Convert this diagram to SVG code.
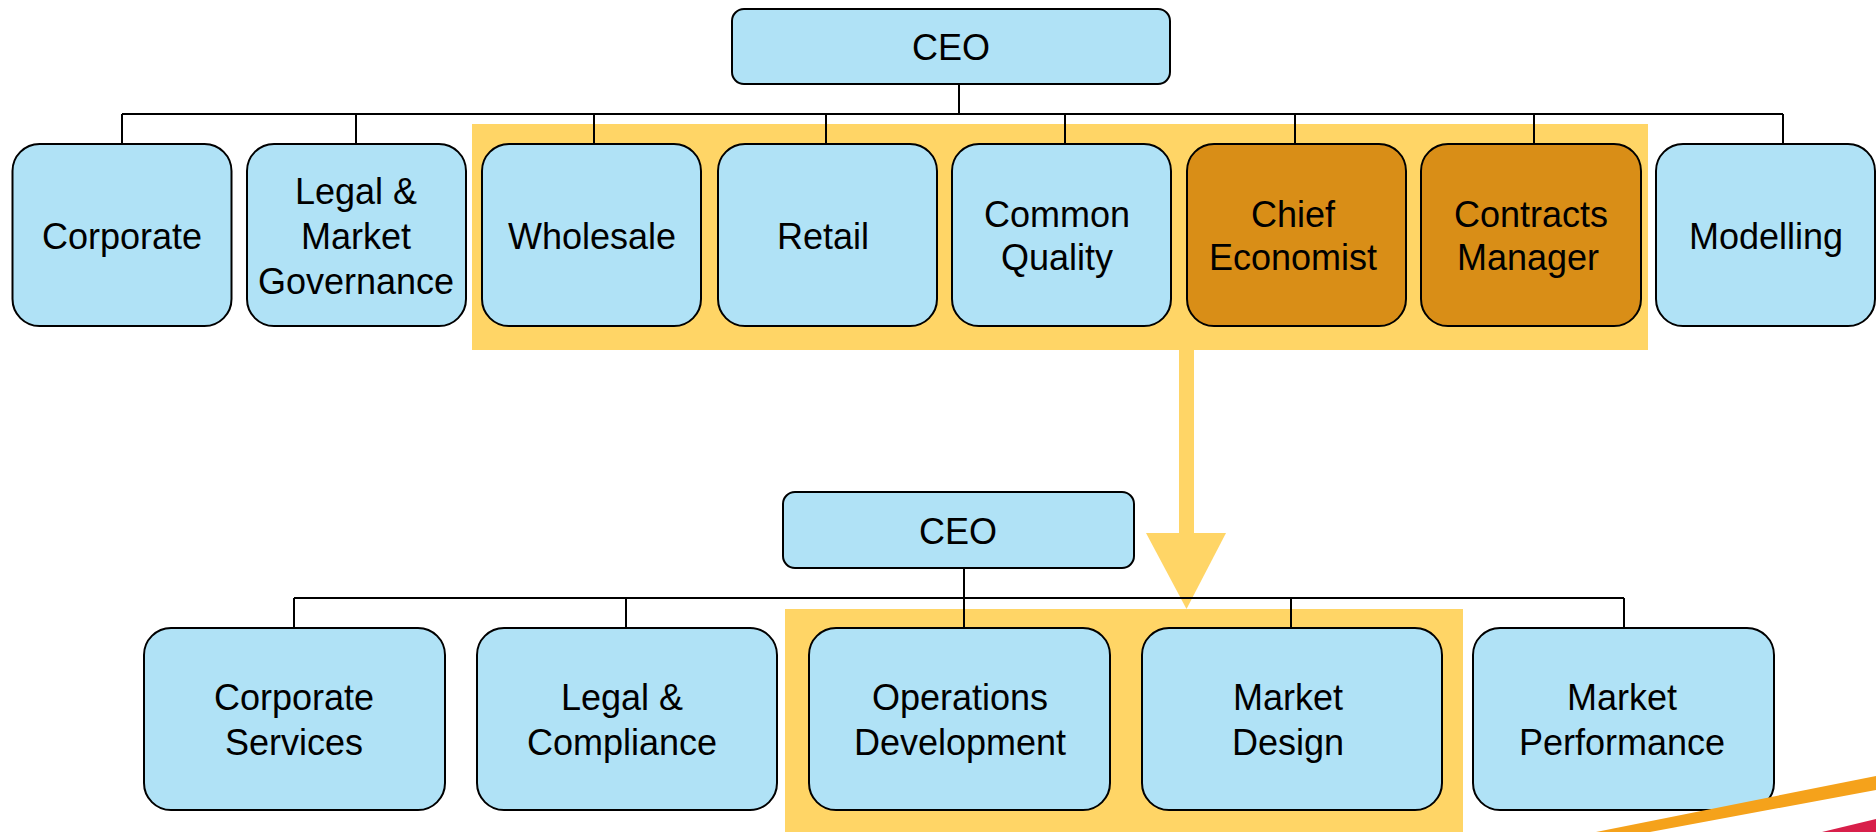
<svg xmlns="http://www.w3.org/2000/svg" width="1876" height="832" viewBox="0 0 1876 832">
<style>
.b{fill:#B0E2F6;stroke:#000;stroke-width:2}
.o{fill:#D98E17;stroke:#000;stroke-width:2}
.t{font-family:"Liberation Sans",Arial,sans-serif;font-size:36px;fill:#000;text-anchor:middle}
.c{fill:none;stroke:#000;stroke-width:2}
.hl{fill:#FFD566}
</style>
<rect width="1876" height="832" fill="#fff"/>
<g id="highlights">
<rect class="hl" x="472" y="124" width="1176" height="226"/>
<rect class="hl" x="785" y="609" width="678" height="223"/>
<g id="transition-arrow">
<rect class="hl" x="1179" y="349" width="15" height="186"/>
<polygon class="hl" points="1146,533 1226,533 1186.5,609"/>
</g>
</g>
<g id="connectors">
<path class="c" d="M122,114 H1783 M959,84 V114 M122,114 V144 M356,114 V144 M594,114 V144 M826,114 V144 M1065,114 V144 M1295,114 V144 M1534,114 V144 M1783,114 V144"/>
<path class="c" d="M294,598 H1624 M964,568 V628 M294,598 V628 M626,598 V628 M1291,598 V628 M1624,598 V628"/>
</g>
<g id="ceo-top"><rect class="b" x="732" y="9" width="438" height="75" rx="12"/><text class="t" x="951" y="60">CEO</text></g>
<g id="corporate"><rect class="b" x="12.5" y="144" width="219" height="182" rx="27"/><text class="t" x="122" y="249">Corporate</text></g>
<g id="legal-market-governance"><rect class="b" x="247" y="144" width="219" height="182" rx="27"/><text class="t" x="356" y="204">Legal &amp;</text><text class="t" x="356" y="249">Market</text><text class="t" x="356" y="294">Governance</text></g>
<g id="wholesale"><rect class="b" x="482" y="144" width="219" height="182" rx="27"/><text class="t" x="592" y="249">Wholesale</text></g>
<g id="retail"><rect class="b" x="718" y="144" width="219" height="182" rx="27"/><text class="t" x="823" y="249">Retail</text></g>
<g id="common-quality"><rect class="b" x="952" y="144" width="219" height="182" rx="27"/><text class="t" x="1057" y="227">Common</text><text class="t" x="1057" y="270">Quality</text></g>
<g id="chief-economist"><rect class="o" x="1187" y="144" width="219" height="182" rx="27"/><text class="t" x="1293" y="227">Chief</text><text class="t" x="1293" y="270">Economist</text></g>
<g id="contracts-manager"><rect class="o" x="1421" y="144" width="220" height="182" rx="27"/><text class="t" x="1531" y="227">Contracts</text><text class="t" x="1528" y="270">Manager</text></g>
<g id="modelling"><rect class="b" x="1656" y="144" width="219" height="182" rx="27"/><text class="t" x="1766" y="249">Modelling</text></g>
<g id="ceo-bottom"><rect class="b" x="783" y="492" width="351" height="76" rx="12"/><text class="t" x="958" y="544">CEO</text></g>
<g id="corporate-services"><rect class="b" x="144" y="628" width="301" height="182" rx="27"/><text class="t" x="294" y="710">Corporate</text><text class="t" x="294" y="755">Services</text></g>
<g id="legal-compliance"><rect class="b" x="477" y="628" width="300" height="182" rx="27"/><text class="t" x="622" y="710">Legal &amp;</text><text class="t" x="622" y="755">Compliance</text></g>
<g id="operations-development"><rect class="b" x="809" y="628" width="301" height="182" rx="27"/><text class="t" x="960" y="710">Operations</text><text class="t" x="960" y="755">Development</text></g>
<g id="market-design"><rect class="b" x="1142" y="628" width="300" height="182" rx="27"/><text class="t" x="1288" y="710">Market</text><text class="t" x="1288" y="755">Design</text></g>
<g id="market-performance"><rect class="b" x="1473" y="628" width="301" height="182" rx="27"/><text class="t" x="1622" y="710">Market</text><text class="t" x="1622" y="755">Performance</text></g>
<g id="decoration">
<polygon points="1596,832 1876,776 1876,790 1650,832" fill="#F5A21B"/>
<polygon points="1822,832 1876,819 1876,832" fill="#D81F4A"/>
</g>
</svg>
